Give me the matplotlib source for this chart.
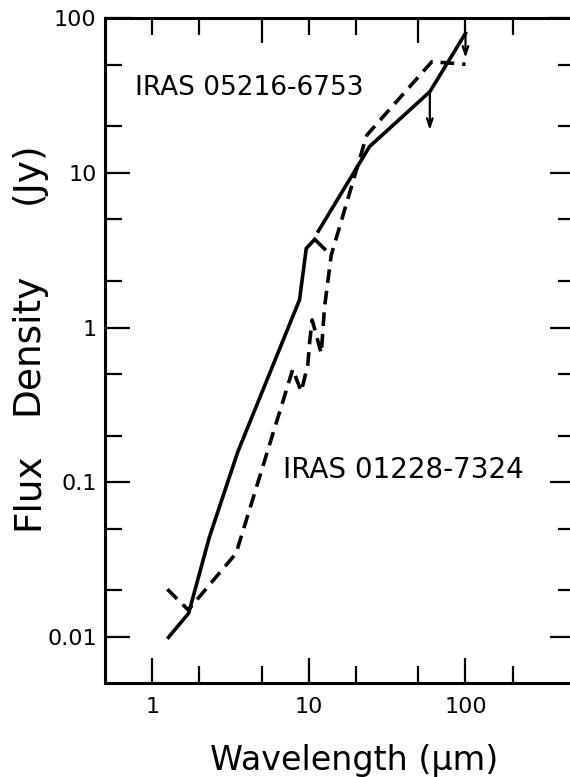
import matplotlib
matplotlib.use("Agg")
import matplotlib.pyplot as plt
from matplotlib.ticker import FixedLocator, NullFormatter, FixedFormatter

# ---- data ----
# solid curve: near-IR photometry + 8-13 um spectrum segment
solid_spec_x = [1.27, 1.71, 2.32, 3.52, 8.72, 9.63, 10.9, 12.6]
solid_spec_y = [0.0099, 0.0142, 0.0442, 0.157, 1.51, 3.25, 3.72, 3.22]
# solid curve: IRAS photometry
solid_iras_x = [11.5, 24.4, 59.2, 100.0]
solid_iras_y = [4.2, 14.8, 33.5, 80.0]
# upper-limit arrows on the solid curve
limit_x = [59.2, 100.0]
limit_top = [33.5, 80.0]
limit_bottom = [18.9, 55.4]
# dashed curve
dash_x = [1.25, 1.70, 3.43, 7.9, 8.94, 9.85, 10.1, 10.5, 12.0, 12.6, 13.9, 23.4, 61.0, 100.0]
dash_y = [0.0203, 0.0149, 0.0346, 0.537, 0.385, 0.572, 0.79, 1.12, 0.68, 1.36, 2.94, 17.5, 52.4, 50.4]

label_top = "IRAS 05216-6753"
label_bottom = "IRAS 01228-7324"
ylabel_words = ["Flux", "Density", "(Jy)"]

x_major = [1, 10, 100]
x_major_labels = ["1", "10", "100"]
x_minor = [2, 5, 20, 50, 200]
top_major = [5, 50]
top_minor = [1, 2, 10, 20, 100, 200]
y_major = [0.01, 0.1, 1, 10, 100]
y_major_labels = ["0.01", "0.1", "1", "10", "100"]
y_minor = [0.02, 0.05, 0.2, 0.5, 2, 5, 20, 50]

plt.rcParams['font.family'] = ['DejaVu Sans']

fig = plt.figure(figsize=(5.70, 7.77), dpi=100)
ax = fig.add_axes([105/570, 93.7/777, 470/570, 665/777])

lw = 2.6
ax.plot(solid_spec_x, solid_spec_y, color='black', lw=lw, solid_joinstyle='miter')
ax.plot(solid_iras_x, solid_iras_y, color='black', lw=lw)
ax.plot(dash_x, dash_y, color='black', lw=lw, dashes=(3.8, 2.2))
for xv, yt, yb in zip(limit_x, limit_top, limit_bottom):
    ax.annotate("", xy=(xv, yb), xytext=(xv, yt),
                arrowprops=dict(arrowstyle='->,head_length=0.6,head_width=0.2',
                                color='black', lw=1.6, shrinkA=0, shrinkB=0))

ax.set_xscale('log')
ax.set_yscale('log')
ax.set_xlim(0.5, 500)
ax.set_ylim(0.005, 100)

ax.xaxis.set_major_locator(FixedLocator(x_major))
ax.xaxis.set_major_formatter(FixedFormatter(x_major_labels))
ax.xaxis.set_minor_locator(FixedLocator(x_minor))
ax.xaxis.set_minor_formatter(NullFormatter())
ax.yaxis.set_major_locator(FixedLocator(y_major))
ax.yaxis.set_major_formatter(FixedFormatter(y_major_labels))
ax.yaxis.set_minor_locator(FixedLocator(y_minor))
ax.yaxis.set_minor_formatter(NullFormatter())

ax.tick_params(which='both', direction='in', top=False, right=True, width=1.6, color='black')
ax.tick_params(which='major', length=18, labelsize=16)
ax.tick_params(axis='x', which='major', pad=10)
ax.tick_params(axis='y', which='major', pad=6)
ax.tick_params(which='minor', length=12)
for s in ax.spines.values():
    s.set_linewidth(2.2)

ax2 = ax.twiny()
ax2.set_xscale('log')
ax2.set_xlim(0.5, 500)
ax2.xaxis.set_major_locator(FixedLocator(top_major))
ax2.xaxis.set_minor_locator(FixedLocator(top_minor))
ax2.xaxis.set_major_formatter(NullFormatter())
ax2.xaxis.set_minor_formatter(NullFormatter())
ax2.tick_params(which='both', direction='in', top=True, bottom=False, width=1.6)
ax2.tick_params(which='major', length=18)
ax2.tick_params(which='minor', length=12)
for s in ax2.spines.values():
    s.set_visible(False)

ax.set_xlabel("Wavelength (\u03bcm)", fontsize=24)
ax.xaxis.set_label_coords(0.529, -0.091)

# y label, words spaced as in the original lettering
for word, yc in zip(ylabel_words, [0.289, 0.511, 0.768]):
    ax.text(-0.165, yc, word, transform=ax.transAxes, fontsize=27,
            rotation=90, ha='center', va='center')

ax.text(0.064, 0.895, label_top, transform=ax.transAxes, fontsize=19, ha='left', va='center')
ax.text(0.379, 0.321, label_bottom, transform=ax.transAxes, fontsize=20, ha='left', va='center')

fig.savefig("out.png", dpi=100)
